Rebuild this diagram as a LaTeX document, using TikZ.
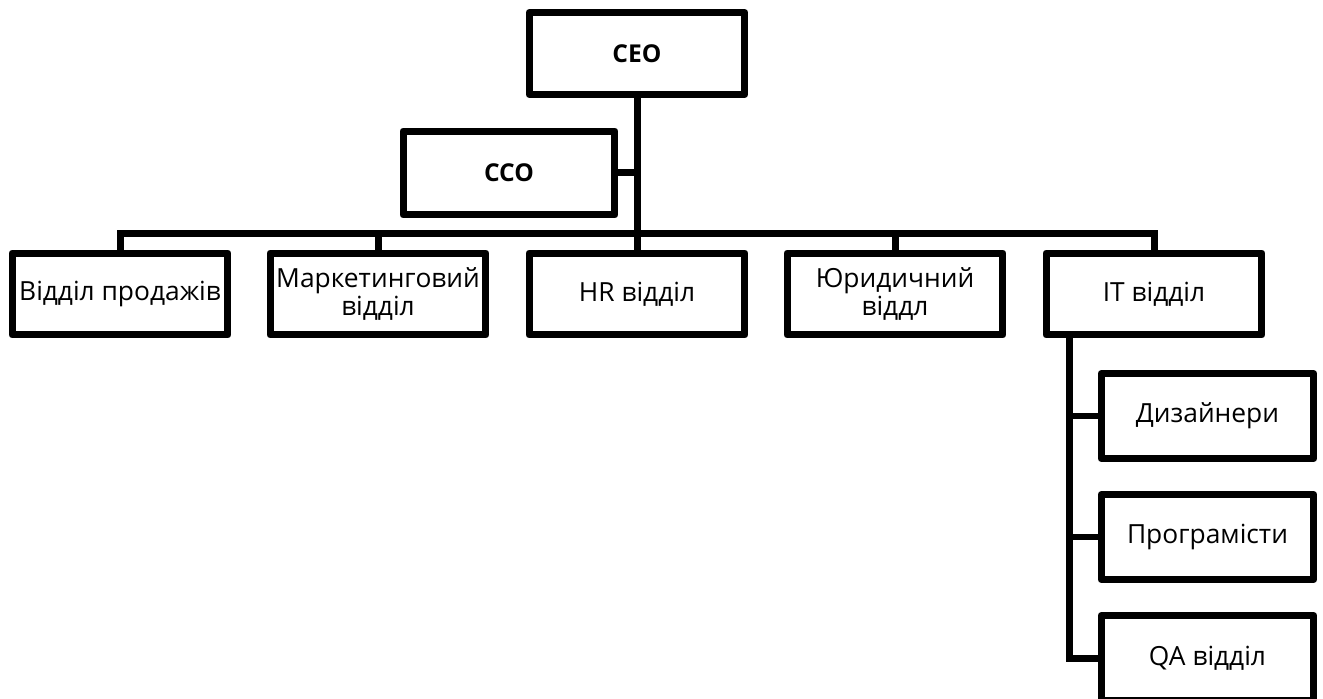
\documentclass[tikz,border=0pt]{standalone}
\usepackage{fontspec}
\setmainfont{Open Sans}
\usetikzlibrary{positioning}

\begin{document}
\begin{tikzpicture}[x=0.02cm, y=-0.02cm,
    box/.style={draw, line width=0.14cm, line join=round, minimum width=4.32cm,
      minimum height=1.64cm, inner sep=0pt, align=center, font=\fontsize{15}{15.5}\selectfont},
    subbox/.style={box, minimum width=4.26cm, minimum height=1.7cm},
    link/.style={line width=0.14cm}]
  \useasboundingbox (0,0) rectangle (1323,699);

  % top of the chart
  \node[box, font=\bfseries\fontsize{14}{15}\selectfont] (ceo) at (637,53.5) {CEO};
  \node[box, font=\bfseries\fontsize{14}{15}\selectfont, minimum width=4.24cm,
    minimum height=1.68cm] (cco) at (509,173) {CCO};

  % departments
  \node[box] (sales) at (120,294) {Відділ продажів};
  \node[box] (mkt) at (378,294) {Маркетинговий\\відділ};
  \node[box] (hr) at (637,294) {HR відділ};
  \node[box] (law) at (895,294) {Юридичний\\віддл};
  \node[box] (it) at (1154,294) {IT відділ};

  % IT subdivisions
  \node[subbox] (des) at (1207.5,416) {Дизайнери};
  \node[subbox] (dev) at (1207.5,537) {Програмісти};
  \node[subbox] (qa) at (1207.5,658) {QA відділ};

  \coordinate (bus) at (0,234);
  \coordinate (spine) at (1069,337);

  \draw[link] (ceo) -- (hr);
  \draw[link] (cco.east) -- (cco.east -| ceo.south);
  \draw[link] (sales.north) -- (sales.north |- bus) -- (it.north |- bus) -- (it.north);
  \draw[link] (mkt.north) -- (mkt.north |- bus);
  \draw[link] (law.north) -- (law.north |- bus);
  \draw[link] (spine) |- (qa.west);
  \draw[link] (spine |- des.west) -- (des.west);
  \draw[link] (spine |- dev.west) -- (dev.west);
\end{tikzpicture}
\end{document}
